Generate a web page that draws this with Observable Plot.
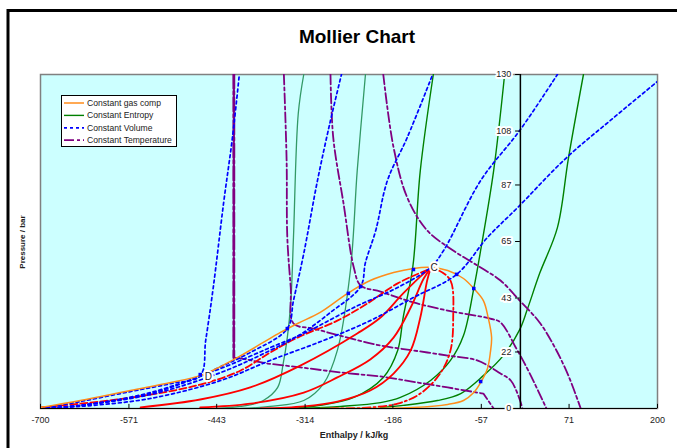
<!DOCTYPE html>
<html><head><meta charset="utf-8">
<script src="https://cdn.jsdelivr.net/npm/d3@7"></script>
<script src="https://cdn.jsdelivr.net/npm/@observablehq/plot@0.6"></script>
<style>html,body{margin:0;padding:0;background:#fff;}</style>
</head><body><div id="chart"></div>
<script>
// ---- tick labels ----
const xTicks = [-700, -571, -443, -314, -186, -57, 71, 200];
const yTicks = [0, 22, 43, 65, 87, 108, 130];

// ---- Constant gas comp (phase envelope) ----
const envH = [-700,-642,-569,-510,-467,-449,-413,-375,-350,-325,-292,-252,-219,-185,-156,-131,-106,-83,-68,-54,-47,-42,-44,-48,-58,-68,-83,-106,-156,-292];
const envP = [0.4,3.1,7.0,10.1,12.8,14.8,19.8,25.7,29.6,33.1,37.4,44.8,49.8,52.9,54.5,54.9,53.7,50.6,46.7,42.0,35.4,27.6,21.4,15.6,10.1,6.2,3.1,1.6,0.4,0];

// ---- Constant entropy ----
const s1H = [-316,-324,-331,-335,-340,-346,-354,-375,-398,-442];
const s1P = [130,114.8,66.6,40.9,27.6,17.5,8.2,3.1,1.2,0];
const s2H = [-226,-238,-248,-267,-287,-316,-365,-408];
const s2P = [130,92.6,53.7,22.6,9.7,3.1,0.8,0];
const s3H = [-127,-146,-157,-171,-179,-200,-243,-292,-335];
const s3P = [130,92.6,54.9,35.4,22.6,12.1,4.3,1.2,0];
const s4H = [-23,-39,-58,-68,-83,-102,-131,-175,-204,-262,-321];
const s4P = [130,92.6,61.5,46.7,28.4,18.7,10.9,4.3,2.3,0.8,0];
const s5H = [92,70,54,28,10,-1,-25,-54,-87,-121,-171,-204];
const s5P = [130,97.3,70.4,52.5,38.5,30.7,20.6,12.8,5.8,3.1,1.2,0.4];

// ---- Constant volume ----
const v1H = [-700,-642,-569,-510,-467,-459,-448,-433,-420,-410];
const v1P = [0,2.7,6.6,9.7,12.8,26.5,47.1,79.8,105.5,130];
const v2H = [-700,-642,-540,-467,-437,-394,-340,-331,-316,-296,-277,-261];
const v2P = [0,1.2,5.8,12.5,16.3,21.8,31.1,42.0,60.3,88.7,112.1,130];
const v3H = [-700,-642,-540,-437,-365,-321,-277,-233,-226,-211,-194,-165,-128];
const v3P = [0,1.2,5.4,14.0,22.6,28.8,37.4,47.5,56.8,69.3,88.7,105.5,130];
const v4H = [-700,-642,-540,-437,-365,-316,-243,-179,-131,-112,-58,-1,54];
const v4P = [0,1.2,6.2,15.6,23.7,29.2,39.3,47.1,54.9,61.5,88.7,108.2,130];
const v5H = [-700,-642,-540,-437,-365,-287,-219,-156,-93,-48,-4,66,133,200];
const v5P = [0,0.8,3.9,10.9,18.7,26.5,34.2,43.2,52.2,66.6,78.2,97.3,112.5,127.3];

// ---- Constant temperature ----
const t1H = [-418,-418,-408,-369,-321,-262,-204,-106,-54,-39];
const t1P = [130,19.8,19.5,17.5,16.0,14.0,12.5,8.2,5.8,0];
const t2H = [-345,-341,-340,-335,-331,-302,-252,-204,-156,-106,-63,-29,-14,-1,3];
const t2P = [130,96.5,66.6,47.1,33.1,31.1,27.6,24.5,22.6,20.6,18.7,13.6,10.9,3.5,0];
const t3H = [-277,-273,-258,-243,-233,-204,-156,-106,-44,-29,-6,13,38];
const t3P = [130,105.5,79.8,54.9,47.9,45.5,41.3,38.1,35.0,33.5,23.4,14.0,0];
const t4H = [-200,-185,-165,-136,-98,-58,-29,-1,28,51,70,88];
const t4P = [130,101.6,82.1,69.3,61.5,54.9,49.8,42.0,33.5,23.4,12.8,0];

// ---- quality lines (red) converging on critical point C ----
const q1H = [-700,-613,-540,-467,-408,-365,-325,-267,-223,-179,-131];
const q1P = [0.4,2.7,5.4,9.3,14.8,21.8,27.6,34.2,40.9,48.7,54.5];
const q2H = [-554,-467,-394,-321,-238,-204,-171,-141,-131];
const q2P = [0.4,3.5,8.2,16.7,29.2,35.4,44.8,52.5,54.5];
const q3H = [-467,-394,-316,-267,-219,-185,-160,-141,-131];
const q3P = [0.4,1.9,6.2,12.1,19.1,27.6,39.3,50.6,54.5];
const q4H = [-379,-316,-267,-219,-185,-160,-146,-136,-131];
const q4P = [0,0.8,2.7,7.0,13.6,22.6,35.4,49.8,54.5];
const q5H = [-277,-219,-179,-146,-117,-102,-98,-102,-119,-131];
const q5P = [0,0.4,1.9,5.8,13.6,22.6,35.4,49.8,53.7,54.5];

// ---- marker points and labels ----
const dotH = [-467,-340,-251,-233,-156,-93,-68,-58];
const dotP = [13.2,31.1,44.8,47.5,54.1,52.2,46.7,10.5];
const labelText = ["C", "D"];
const labelH = [-126, -455];
const labelP = [54.9, 12.4];

const zip = (H, P) => H.map((h, i) => ({h, P: P[i]}));
const line = (H, P, o) => Plot.line(zip(H, P), {x: "h", y: "P", curve: "catmull-rom", clip: true, ...o});

const GREEN = "#008000", SEA = "#339966", BLUE = "#0000ff", RED = "#ff0000", PURPLE = "#800080", ORANGE = "#ff8c1a";
const tDash = "10,3,3,3";

const svg = Plot.plot({
  width: 677, height: 448,
  marginLeft: 40, marginRight: 20, marginTop: 74, marginBottom: 40,
  x: {domain: [-700, 200], axis: null},
  y: {domain: [0, 130], axis: null},
  style: {fontFamily: "'Liberation Sans', Arial, sans-serif", background: "white", overflow: "visible"},
  marks: [
    Plot.frame({fill: "#ccffff", stroke: "#808080", strokeWidth: 1.5}),
    // entropy
    line(s1H, s1P, {stroke: SEA, strokeWidth: 1.3}),
    line(s2H, s2P, {stroke: SEA, strokeWidth: 1.3}),
    line(s3H, s3P, {stroke: GREEN, strokeWidth: 1.4}),
    line(s4H, s4P, {stroke: GREEN, strokeWidth: 1.4}),
    line(s5H, s5P, {stroke: GREEN, strokeWidth: 1.4}),
    // temperature
    line(t1H, t1P, {stroke: PURPLE, strokeWidth: 1.8, strokeDasharray: tDash, curve: "linear"}),
    line(t1H.slice(0, 2), t1P.slice(0, 2), {stroke: PURPLE, strokeWidth: 2.8, strokeDasharray: "14,3,3,3", curve: "linear"}),
    line(t2H, t2P, {stroke: PURPLE, strokeWidth: 1.8, strokeDasharray: tDash}),
    line(t3H, t3P, {stroke: PURPLE, strokeWidth: 1.8, strokeDasharray: tDash}),
    line(t4H, t4P, {stroke: PURPLE, strokeWidth: 1.8, strokeDasharray: tDash}),
    // quality
    line(q1H, q1P, {stroke: RED, strokeWidth: 1.8, strokeDasharray: "7,3"}),
    line(q2H, q2P, {stroke: RED, strokeWidth: 1.8}),
    line(q3H, q3P, {stroke: RED, strokeWidth: 1.8}),
    line(q4H, q4P, {stroke: RED, strokeWidth: 1.8}),
    line(q5H, q5P, {stroke: RED, strokeWidth: 1.8, strokeDasharray: "8,3,2,3"}),
    // volume
    line(v1H, v1P, {stroke: BLUE, strokeWidth: 1.7, strokeDasharray: "3,3"}),
    line(v2H, v2P, {stroke: BLUE, strokeWidth: 1.7, strokeDasharray: "3,3"}),
    line(v3H, v3P, {stroke: BLUE, strokeWidth: 1.7, strokeDasharray: "3,3"}),
    line(v4H, v4P, {stroke: BLUE, strokeWidth: 1.7, strokeDasharray: "3,3"}),
    line(v5H, v5P, {stroke: BLUE, strokeWidth: 1.7, strokeDasharray: "3,3"}),
    // envelope
    line(envH, envP, {stroke: ORANGE, strokeWidth: 1.5}),
    Plot.dot(zip(dotH, dotP), {x: "h", y: "P", symbol: "square", r: 2, fill: BLUE}),
    // axes
    Plot.ruleY([0], {stroke: "#000", strokeWidth: 1.2}),
    Plot.ruleX([0], {stroke: "#000", strokeWidth: 1.5}),
    Plot.ruleX(xTicks, {x: d => d, y1: 0, y2: 1.6, stroke: "#000"}),
    Plot.ruleY(yTicks, {y: d => d, x1: -7, x2: 0, stroke: "#000"}),
    Plot.text(xTicks, {x: d => d, frameAnchor: "bottom", dy: 14, text: d => String(d), fontSize: 9, fill: "#222"}),
    Plot.text(yTicks, {x: 0, y: d => d, dx: -9, textAnchor: "end", text: d => String(d), fontSize: 9, fill: "#222", stroke: "white", strokeWidth: 4}),
    Plot.text(labelText, {x: (d, i) => labelH[i], y: (d, i) => labelP[i], text: d => d, fontSize: 10, fill: "#222", stroke: "white", strokeWidth: 4})
  ]
});

const s = d3.select(svg);
// outer chart border
s.append("path").attr("d", "M8,448V10.5H677").attr("fill", "none").attr("stroke", "#000").attr("stroke-width", 3);
// title
s.append("text").attr("x", 357).attr("y", 43).attr("text-anchor", "middle")
  .attr("font-size", 19).attr("font-weight", "bold").attr("fill", "#000").text("Mollier Chart");
s.append("text").attr("x", 354).attr("y", 438).attr("text-anchor", "middle")
  .attr("font-size", 9).attr("font-weight", "bold").attr("fill", "#222").text("Enthalpy / kJ/kg");
s.append("text").attr("transform", "translate(25,242) rotate(-90)").attr("text-anchor", "middle")
  .attr("font-size", 8).attr("font-weight", "bold").attr("fill", "#222").text("Pressure / bar");
// legend
const leg = s.append("g").attr("text-anchor", "start");
leg.append("rect").attr("x", 61.5).attr("y", 95.5).attr("width", 115).attr("height", 51)
  .attr("fill", "white").attr("stroke", "#000").attr("stroke-width", 1);
const legItems = [
  {label: "Constant gas comp", color: ORANGE, dash: null, w: 1.5},
  {label: "Constant Entropy", color: GREEN, dash: null, w: 1.4},
  {label: "Constant Volume", color: BLUE, dash: "3,3", w: 1.7},
  {label: "Constant Temperature", color: PURPLE, dash: "10,3,3,3", w: 1.8}
];
legItems.forEach((d, i) => {
  const y = 103 + i * 12.4;
  leg.append("line").attr("x1", 64).attr("x2", 84).attr("y1", y).attr("y2", y)
    .attr("stroke", d.color).attr("stroke-width", d.w).attr("stroke-dasharray", d.dash);
  leg.append("text").attr("x", 87).attr("y", y + 3).attr("text-anchor", "start")
    .attr("font-size", 8.6).attr("fill", "#222").text(d.label);
});
document.getElementById("chart").appendChild(svg);
</script></body></html>
